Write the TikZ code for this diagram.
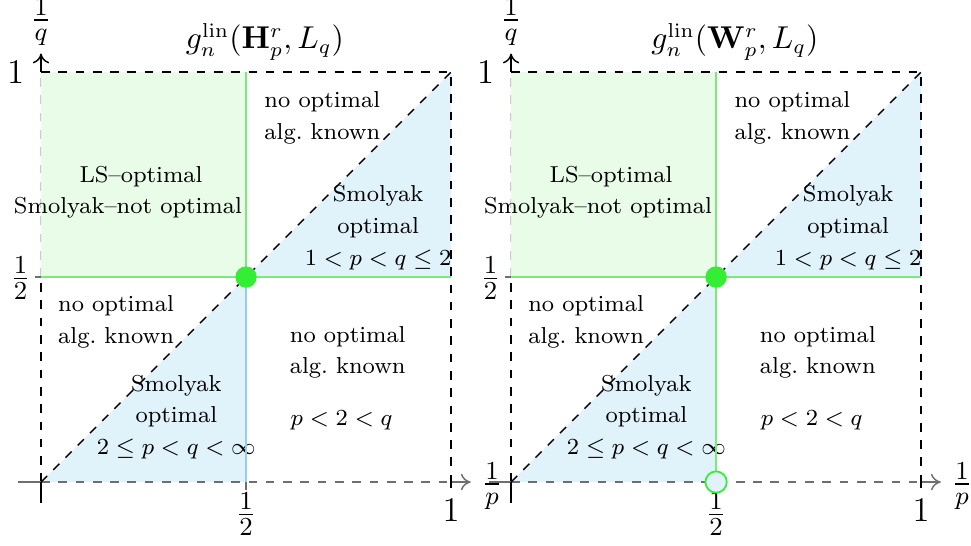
\documentclass[tikz,border=0pt]{standalone}
\usepackage{amsmath}
\usetikzlibrary{arrows.meta}
\definecolor{lsgreen}{HTML}{E5FCE5}
\definecolor{smolblue}{HTML}{E0F2FA}
\definecolor{greenline}{HTML}{7AEA7A}
\definecolor{bluegrid}{HTML}{96CDEA}
\definecolor{dotgreen}{HTML}{33EE33}
\definecolor{axgray}{HTML}{6E6E6E}

% common part of both panels
\newcommand{\regionbase}[1]{%
  % faded left edge under the LS region
  \draw[dashed, black!20] (0,0.5) -- (0,1);
  % regions
  \fill[lsgreen, fill opacity=0.9] (0,0.5) rectangle (0.5,1);
  \fill[smolblue] (0,0) -- (0.5,0) -- (0.5,0.5) -- cycle;
  \fill[smolblue] (0.5,0.5) -- (1,0.5) -- (1,1) -- cycle;
  % frame and diagonal
  \draw[dsh] (0,0) -- (0,0.5);
  \draw[dsh] (0,1) -- (1,1) -- (1,0);
  \draw[dsh, axgray] (0,0) -- (1,0);
  \draw[dsh] (0,0) -- (1,1);
  \draw[greenline, line width=0.6pt] (0,0.5) -- (1,0.5);
  % axes
  \draw[ax, black] (0,1) -- (0,1.045);
  \draw[ax, axgray] (1,0) -- (1.048,0);
  \draw[axgray, line width=0.6pt] (-0.055,0) -- (0,0);
  \draw[line width=0.5pt] (0,0) -- (0,-0.05);
  \draw[line width=0.5pt] (1,0.015) -- (1,-0.015);
  \draw[axgray, line width=0.5pt] (-0.015,0.5) -- (0,0.5);
  \draw[axgray, line width=0.5pt] (0.5,0) -- (0.5,-0.02);
  % axis labels
  \node[frc] (q1)  at (0,1.122)     {$\frac{1}{q}$};
  \node[frc] (p1)  at (1.1,-0.01)   {$\frac{1}{p}$};
  \node[big] (y1)  at (-0.062,0.998) {$1$};
  \node[frc] (yh)  at (-0.05,0.497) {$\frac{1}{2}$};
  \node[frc] (xh)  at (0.5,-0.078)  {$\frac{1}{2}$};
  \node[big] (x1)  at (1,-0.07)     {$1$};
  \node[ttlf] (ttl) at (0.546,1.073) {#1};
  % region texts
  \node[reg] (ls)   at (0.244,0.744) {LS--optimal};
  \node[reg] (smn)  at (0.212,0.668) {Smolyak--not optimal};
  \node[reg] (noa1) at (0.686,0.888) {no optimal\\ alg.\ known};
  \node[reg] (sm1)  at (0.822,0.620) {Smolyak\\ optimal\\ $1<p<q\le 2$};
  \node[reg] (noa2) at (0.183,0.390) {no optimal\\ alg.\ known};
  \node[reg] (sm2)  at (0.330,0.159) {Smolyak\\ optimal\\ $2\le p<q<\infty$};
  \node[reg] (noa3) at (0.748,0.316) {no optimal\\ alg.\ known};
  \node[reg] (pq)   at (0.733,0.151) {$p<2<q$};
}

\begin{document}
\begin{tikzpicture}[x=5cm, y=5cm,
  dsh/.style={dashed, line width=0.5pt},
  ax/.style={-{To[length=1.2mm, width=2mm]}, line width=0.5pt},
  reg/.style={font=\fontsize{8}{11}\selectfont, align=center,
              inner sep=1pt},
  frc/.style={inner sep=1pt, font=\fontsize{13}{15}\selectfont},
  big/.style={inner sep=1pt, font=\large},
  ttlf/.style={inner sep=1pt, font=\fontsize{10.5}{12}\selectfont},
  dot/.style={circle, fill=dotgreen, inner sep=0pt, minimum size=2.6mm},
  odot/.style={circle, draw=dotgreen, fill=smolblue, line width=0.6pt,
               inner sep=0pt, minimum size=2.6mm}
]
  \useasboundingbox (-0.1,-0.1537) rectangle (2.268,1.1756);

  % left panel: H
  \begin{scope}
    \regionbase{$g_n^{\mathrm{lin}}(\mathbf{H}^r_p, L_q)$}
    \draw[bluegrid, line width=0.5pt] (0.5,0) -- (0.5,0.5);
    \draw[greenline, line width=0.6pt] (0.5,0.5) -- (0.5,1);
    \node[dot] (cH) at (0.5,0.5) {};
  \end{scope}

  % right panel: W
  \begin{scope}[xshift=5.7317cm]
    \regionbase{$g_n^{\mathrm{lin}}(\mathbf{W}^r_p, L_q)$}
    \draw[greenline, line width=0.6pt] (0.5,0) -- (0.5,1);
    \node[dot]  (cW) at (0.5,0.5) {};
    \node[odot] (bW) at (0.5,0) {};
  \end{scope}
\end{tikzpicture}
\end{document}
